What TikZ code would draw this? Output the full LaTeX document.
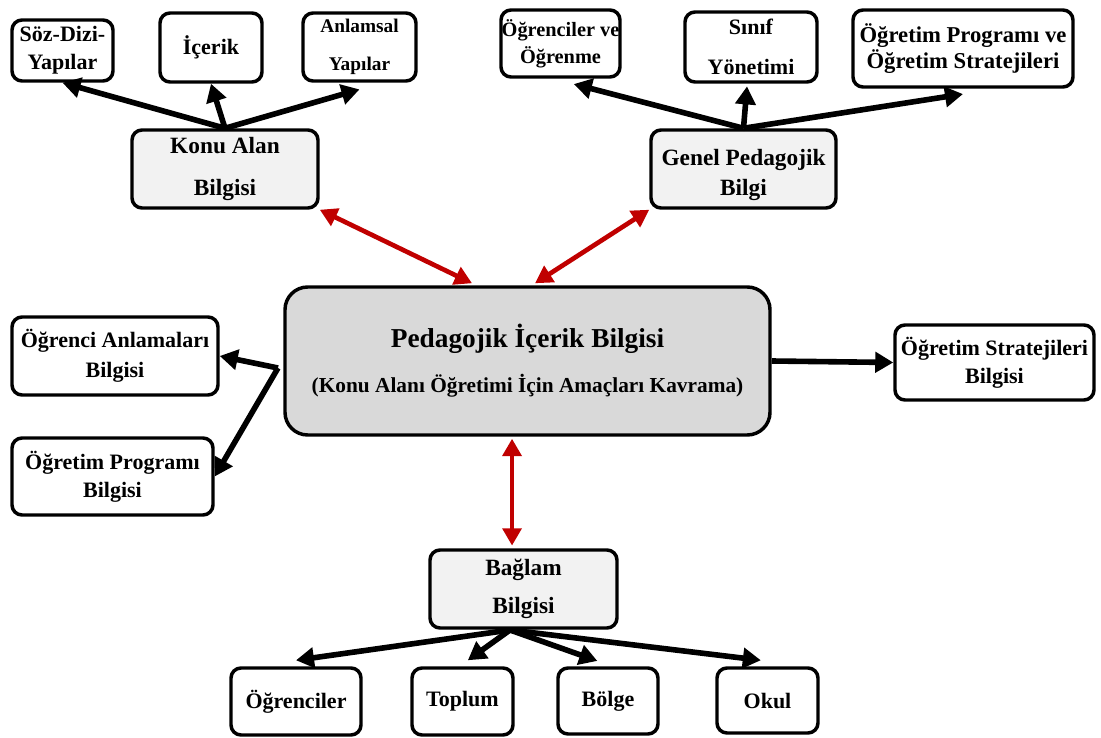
\documentclass[tikz,border=0pt]{standalone}
\usepackage{fontspec}
\setmainfont{Liberation Serif}
\usetikzlibrary{arrows.meta}
\definecolor{hubgray}{HTML}{F2F2F2}
\definecolor{coregray}{HTML}{D9D9D9}
\definecolor{linkred}{HTML}{C00000}
% rounded box given by its corners (x1,y1)-(x2,y2) in pixel units
\newcommand\placebox[7]{%
  \node[#6, minimum width={(#4-#2)*0.75pt}, minimum height={(#5-#3)*0.75pt}]
    (#1) at ({(#2+#4)/2},{(#3+#5)/2}) {#7};}
\tikzset{
  box/.style={draw, line width=2.6pt, rounded corners=7.5pt, fill=white,
    inner sep=0pt, align=center, font=\bfseries\fontsize{16.5}{19.5}\selectfont},
  hub/.style={box, fill=hubgray, font=\bfseries\fontsize{17.5}{20.5}\selectfont},
  core/.style={box, fill=coregray, rounded corners=17pt},
  arr/.style={line width=4.2pt, -{Triangle[length=13.5pt,width=15pt]}},
  link/.style={line width=3.5pt, draw=linkred,
    {Triangle[length=13pt,width=14pt]}-{Triangle[length=13pt,width=14pt]}},
}
\begin{document}
\begin{tikzpicture}[x=0.75pt, y=-0.75pt]
\useasboundingbox (0,0) rectangle (1101,738);

% subject matter knowledge
\placebox{soz}{12}{20}{113}{81}{box}{Söz-Dizi-\\[1.5pt]Yapılar}
\placebox{ice}{160}{13}{262}{82}{box}{İçerik}
\placebox{anl}{303}{13}{416}{81}{box,font=\bfseries\fontsize{14.5}{17.5}\selectfont}{Anlamsal\\[11pt]Yapılar}
\placebox{konu}{132}{130}{318}{208}{hub}{Konu Alan\\[11pt]Bilgisi}

% general pedagogical knowledge
\placebox{ogv}{501}{10}{620}{77}{box,font=\bfseries\fontsize{15.25}{17.5}\selectfont}{Öğrenciler ve\\[2.75pt]Öğrenme}
\placebox{sin}{685}{12}{817}{82}{box}{Sınıf\\[10.5pt]Yönetimi}
\placebox{opv}{853}{10}{1073}{87}{box,font=\bfseries\fontsize{17}{20}\selectfont}{Öğretim Programı ve\\[-0.5pt]Öğretim Stratejileri}
\placebox{gen}{651}{130}{836}{208}{hub}{\rule{0pt}{21pt}Genel Pedagojik\\[2pt]Bilgi}

% pedagogical content knowledge
\placebox{cen}{285}{287}{770}{435}{core}{{\fontsize{20.5}{19.5}\selectfont Pedagojik İçerik Bilgisi}\\[14.25pt]{\fontsize{16}{19.5}\selectfont(Konu Alanı Öğretimi İçin Amaçları Kavrama)}}
\placebox{ana}{12}{317}{218}{395}{box}{Öğrenci Anlamaları\\[3pt]Bilgisi}
\placebox{prg}{12}{438}{213}{515}{box}{Öğretim Programı\\[1.5pt]Bilgisi}
\placebox{str}{895}{325}{1094}{400}{box}{Öğretim Stratejileri\\[1.5pt]Bilgisi}

% context knowledge
\placebox{bag}{430}{550}{617}{628}{hub}{Bağlam\\[8.5pt]Bilgisi}
\placebox{ogr}{231}{668}{361}{735}{box}{Öğrenciler}
\placebox{top}{412}{668}{513}{735}{box}{Toplum}
\placebox{bol}{558}{668}{658}{734}{box}{Bölge}
\placebox{okl}{717}{668}{818}{733}{box}{Okul}

% branches
\draw[arr] (konu.north) -- (soz.south);
\draw[arr] (konu.north) -- (ice.south);
\draw[arr] (konu.north) -- ([yshift=-5pt]anl.south);

\draw[arr] (gen.north) -- ([xshift=10pt,yshift=-4pt]ogv.south);
\draw[arr] (gen.north) -- ([xshift=-3pt,yshift=-2pt]sin.south);
\draw[arr] (gen.north) -- ([yshift=-4pt]opv.south);

\coordinate (lft) at (278,368);
\draw[arr] (lft) -- (ana.east);
\draw[arr] (lft) -- (prg.east);
\draw[arr] (cen.east) -- (str.west);

\coordinate (bagout) at (510,630);
\draw[arr] (bagout) -- ([yshift=4.5pt]ogr.north);
\draw[arr] (bagout) -- ([xshift=4pt,yshift=4.5pt]top.north);
\draw[arr] (bagout) -- ([xshift=-8pt,yshift=4pt]bol.north);
\draw[arr] (bagout) -- ([xshift=-5pt,yshift=4.5pt]okl.north);

% two-way links to the centre
\draw[link] (konu.south east) -- ([xshift=-41.6pt,yshift=1.5pt]cen.north);
\draw[link] (gen.south west) -- ([xshift=5.6pt,yshift=1.5pt]cen.north);
\draw[link] ([xshift=-11.6pt,yshift=-1.5pt]cen.south) -- ([xshift=-8.6pt,yshift=2pt]bag.north);
\end{tikzpicture}
\end{document}
